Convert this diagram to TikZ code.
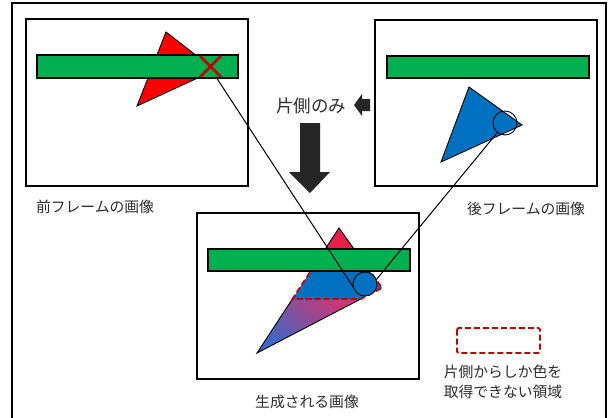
\documentclass[tikz,border=0pt]{standalone}
\usepackage{fontspec}
\newfontfamily\jp{Noto Sans CJK JP}
\definecolor{barGreen}{RGB}{0,176,80}
\definecolor{triRed}{RGB}{255,0,0}
\definecolor{triBlue}{RGB}{0,112,192}
\definecolor{peakRed}{RGB}{232,32,72}
\definecolor{darkRed}{RGB}{192,0,0}
\definecolor{arrowGray}{RGB}{38,38,38}
\definecolor{txtGray}{RGB}{45,45,45}
\definecolor{gradTop}{RGB}{205,55,115}
\definecolor{gradBot}{RGB}{55,105,200}
\begin{document}
\begin{tikzpicture}[x=1pt,y=-1pt,
  framebox/.style={draw=black,line width=1.3pt},
  greenbar/.style={draw=black,line width=1.3pt,fill=barGreen},
  shapeline/.style={draw=black,line width=0.9pt},
  link/.style={draw=black,line width=1pt},
  lbl/.style={font=\jp\fontsize{14.8}{20}\selectfont,text=txtGray,inner sep=0pt},
  dashline/.style={draw=darkRed,line width=1.8pt,dash pattern=on 6pt off 3pt},
  fatarrow/.style={fill=arrowGray,draw=none}]
\useasboundingbox (0,0) rectangle (611,418);
\fill[white] (0,0) rectangle (611,418);
% outer frame
\draw[line width=2.2pt] (12,425) -- (12,3) -- (606,3) -- (606,425);

% ---------- previous frame ----------
\draw[framebox] (26,19) rectangle (248,186);
\filldraw[fill=triRed,shapeline] (166,32) -- (215,70) -- (137,106) -- cycle;
\draw[greenbar] (37,55) rectangle (238,78);
\draw[darkRed,line width=2.6pt] (200,56) -- (221,77) (200,77) -- (221,56);
\coordinate (xmark) at (216,77);
\node[lbl] (lprev) at (95,207) {前フレームの画像};

% ---------- next frame ----------
\draw[framebox] (375,20) rectangle (597,186);
\draw[greenbar] (387,56) rectangle (589,78);
\filldraw[fill=triBlue,shapeline] (469,87) -- (522,125) -- (441,162) -- cycle;
\node[circle,draw=black,line width=0.9pt,minimum size=24pt,inner sep=0pt] (cnext) at (505,123) {};
\coordinate (nstart) at (497,133);
\node[lbl] (lnext) at (526,209) {後フレームの画像};

% ---------- arrows ----------
\fill[fatarrow] (354,105) -- (362,94) -- (362,99) -- (370,99) -- (370,111) -- (362,111) -- (362,116) -- cycle;
\node[lbl,font=\jp\fontsize{17.5}{20}\selectfont] (lone) at (311,106) {片側のみ};
\fill[fatarrow] (300,123) -- (320,123) -- (320,172) -- (330,172) -- (310,193) -- (289,172) -- (300,172) -- cycle;

% ---------- generated frame ----------
\draw[framebox] (197,213) rectangle (419,379);
\shade[top color=gradTop,bottom color=gradBot,shading angle=-40]
  (292.4,299) -- (360.8,299) -- (257,353) -- cycle;
\fill[triBlue] (310.8,271) -- (369.8,271) -- (382,288) -- (360.8,299) -- (292.4,299) -- cycle;
\fill[peakRed] (325.2,249) -- (339,228) -- (354,249) -- cycle;
\draw[shapeline] (325.2,249) -- (339,228) -- (354,249);
\draw[shapeline] (292.4,299) -- (257,353) -- (360.8,299);
\draw[dashline] (310.8,271) -- (369.8,271) -- (382,288) -- (360.8,299) -- (292.4,299) -- cycle;
\draw[greenbar] (208,249) rectangle (410,271);
\node[circle,draw=black,fill=triBlue,line width=0.9pt,minimum size=24pt,inner sep=0pt] (cgen) at (365,284) {};
\node[lbl] (lgen) at (307,402) {生成される画像};

% ---------- connectors ----------
\coordinate (gl) at (353.5,287.5);
\coordinate (gr) at (376,280);
\draw[link] (xmark) -- (gl);
\draw[link] (nstart) -- (gr);

% ---------- legend ----------
\draw[dashline,rounded corners=1.5pt] (457,328) rectangle (540,353);
\node[lbl,align=center] (legtext) at (503,382) {片側からしか色を\\取得できない領域};
\end{tikzpicture}
\end{document}
